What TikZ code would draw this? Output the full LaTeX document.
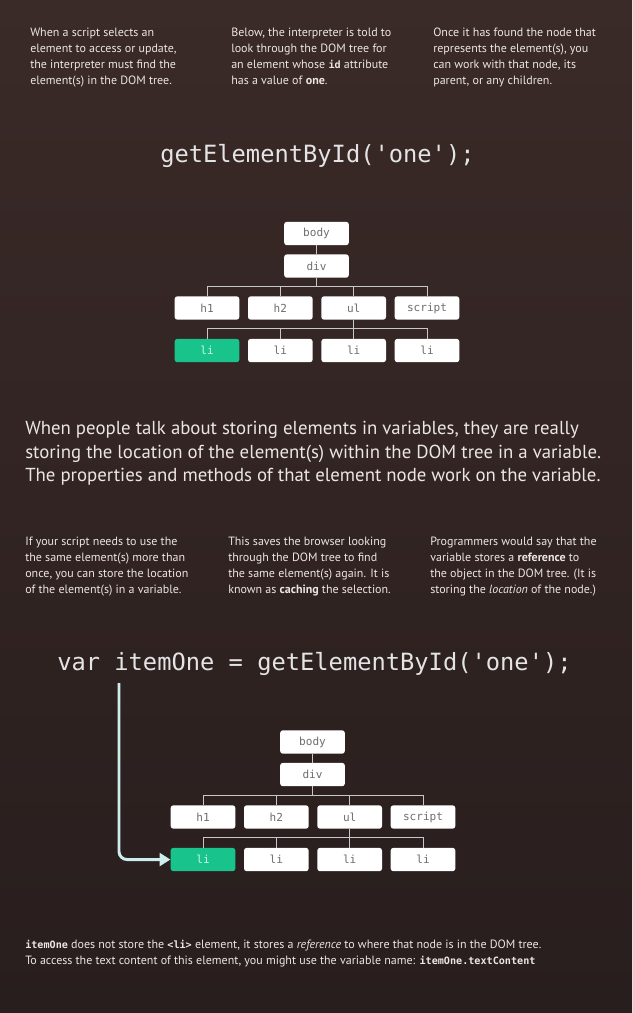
\documentclass[tikz,border=0pt]{standalone}
\usepackage{fontspec}
\setmainfont{PT Sans}
\setmonofont{DejaVu Sans Mono}
\usetikzlibrary{arrows.meta}

\definecolor{bgtop}{RGB}{58,42,40}
\definecolor{bgbottom}{RGB}{40,30,29}
\definecolor{notewhite}{RGB}{236,230,226}
\definecolor{codewhite}{RGB}{228,228,228}
\definecolor{taggray}{RGB}{110,110,110}
\definecolor{linkgray}{RGB}{200,200,200}
\definecolor{hitgreen}{RGB}{24,196,140}
\definecolor{hittext}{RGB}{200,245,225}
\definecolor{pointercyan}{RGB}{205,238,237}

% inline code in the notes
\newcommand{\inlinecode}[1]{{\fontsize{7.6}{12}\selectfont\ttfamily\bfseries #1}}

\begin{document}
\begin{tikzpicture}[x=0.75pt, y=-0.75pt, node distance = 55pt,
    tag/.style = {fill=white, rounded corners=2pt, minimum width=48.5pt,
        minimum height=17.5pt, inner sep=0pt, text=taggray,
        font=\fontsize{8.3}{10}\ttfamily},
    hit/.style = {tag, fill=hitgreen, text=hittext},
    link/.style = {draw=linkgray, line width=0.75pt},
    note/.style = {anchor=north west, align=left, inner sep=0pt,
        text=notewhite, font=\fontsize{9}{12}\selectfont},
    lead/.style = {note, font=\fontsize{14.1}{17.6}\selectfont},
    code/.style = {anchor=base west, inner sep=0pt, text=codewhite,
        font=\fontsize{17.8}{20}\ttfamily},
    pointer/.style = {draw=pointercyan, line width=2.2pt, rounded corners=6pt,
        -{Triangle[length=8pt, width=9.5pt]}}]

                \shade[top color=bgtop, bottom color=bgbottom] (0,0) rectangle (632,1013);

                % first block of notes
                \node[note] (n1) at (30,28) {When a script selects an\\element to access or update,\\the interpreter must find the\\element(s) in the DOM tree.};
                \node[note] (n2) at (231,28) {Below, the interpreter is told to\\look through the DOM tree for\\an element whose \inlinecode{id} attribute\\has a value of \textbf{one}.};
                \node[note] (n3) at (433,28) {Once it has found the node that\\represents the element(s), you\\can work with that node, its\\parent, or any children.};

                \node[code] (call) at (160,162) {getElementById('one');};

                % first tree
                \node[tag] (body) at (316.5,233.5) {body};
                \node[tag] (div) [below of = body, node distance = 24.4pt] {div};

                \node[tag] (h1) at (207,308) {h1};
                \node[tag] (h2) [right of = h1] {h2};
                \node[tag] (ul) [right of = h2] {ul};
                \node[tag] (script) [right of = ul] {script};

                \node[hit] (li1) [below of = h1, node distance = 31.9pt] {li};
                \node[tag] (li2) [right of = li1] {li};
                \node[tag] (li3) [right of = li2] {li};
                \node[tag] (li4) [right of = li3] {li};

                \draw[link] (body) -- (div);
                \draw[link] (div.south) -- ++(0,9) -| (h1.north);
                \draw[link] (div.south) -- ++(0,9) -| (h2.north);
                \draw[link] (div.south) -- ++(0,9) -| (ul.north);
                \draw[link] (div.south) -- ++(0,9) -| (script.north);

                \draw[link] (ul.south) -- ++(0,9) -| (li1.north);
                \draw[link] (ul.south) -- ++(0,9) -| (li2.north);
                \draw[link] (ul.south) -- ++(0,9) -| (li3.north);
                \draw[link] (ul.south) -- ++(0,9) -| (li4.north);

                \node[lead] (lead) at (25,421) {When people talk about storing elements in variables, they are really\\storing the location of the element(s) within the DOM tree in a variable.\\The properties and methods of that element node work on the variable.};

                % second block of notes
                \node[note] (m1) at (25,537) {If your script needs to use the\\the same element(s) more than\\once, you can store the location\\of the element(s) in a variable.};
                \node[note] (m2) at (228,537) {This saves the browser looking\\through the DOM tree to find\\the same element(s) again. It is\\known as \textbf{caching} the selection.};
                \node[note] (m3) at (430,537) {Programmers would say that the\\variable stores a \textbf{reference} to\\the object in the DOM tree. (It is\\storing the \textit{location} of the node.)};

                \node[code] (assign) at (57,670) {var itemOne = getElementById('one');};
                \coordinate (itemref) at (119,683);

                % second tree
                \node[tag] (bodyb) at (312.5,742) {body};
                \node[tag] (divb) [below of = bodyb, node distance = 24.4pt] {div};

                \node[tag] (h1b) at (203,817) {h1};
                \node[tag] (h2b) [right of = h1b] {h2};
                \node[tag] (ulb) [right of = h2b] {ul};
                \node[tag] (scriptb) [right of = ulb] {script};

                \node[hit] (li1b) [below of = h1b, node distance = 31.9pt] {li};
                \node[tag] (li2b) [right of = li1b] {li};
                \node[tag] (li3b) [right of = li2b] {li};
                \node[tag] (li4b) [right of = li3b] {li};

                \draw[link] (bodyb) -- (divb);
                \draw[link] (divb.south) -- ++(0,9) -| (h1b.north);
                \draw[link] (divb.south) -- ++(0,9) -| (h2b.north);
                \draw[link] (divb.south) -- ++(0,9) -| (ulb.north);
                \draw[link] (divb.south) -- ++(0,9) -| (scriptb.north);

                \draw[link] (ulb.south) -- ++(0,9) -| (li1b.north);
                \draw[link] (ulb.south) -- ++(0,9) -| (li2b.north);
                \draw[link] (ulb.south) -- ++(0,9) -| (li3b.north);
                \draw[link] (ulb.south) -- ++(0,9) -| (li4b.north);

                \draw[pointer] (itemref) |- (li1b.west);

                \node[note] (foot) at (25,940) {\inlinecode{itemOne} does not store the \inlinecode{<li>} element, it stores a \textit{reference} to where that node is in the DOM tree.\\To access the text content of this element, you might use the variable name: \inlinecode{itemOne.textContent}};
            \end{tikzpicture}
\end{document}
